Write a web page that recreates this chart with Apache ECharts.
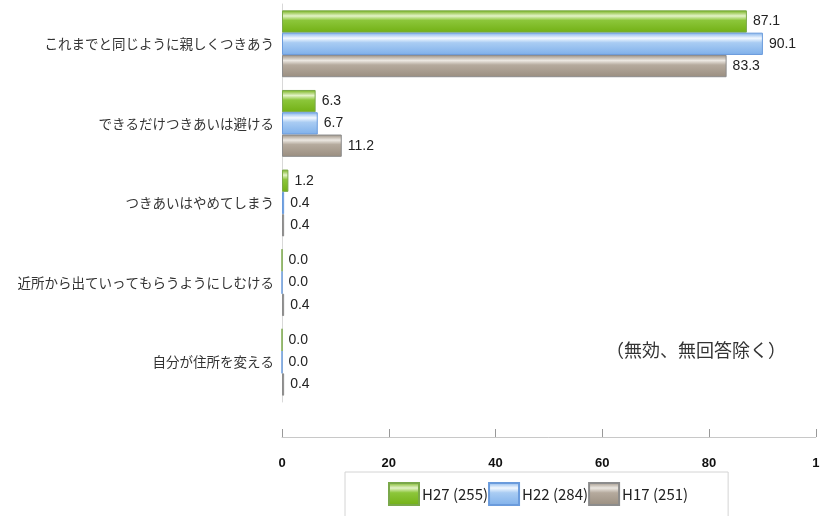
<!DOCTYPE html>
<html><head><meta charset="utf-8">
<script src="https://cdn.jsdelivr.net/npm/echarts@6/dist/echarts.min.js"></script>
<style>html,body{margin:0;padding:0;background:#fff}#c{width:828px;height:516px}</style>
</head><body><div id="c"></div>
<script>
const categories = ['これまでと同じように親しくつきあう','できるだけつきあいは避ける','つきあいはやめてしまう','近所から出ていってもらうようにしむける','自分が住所を変える'];
const seriesNames = ['H27 (255)','H22 (284)','H17 (251)'];
const h27 = [87.1, 6.3, 1.2, 0.0, 0.0];
const h22 = [90.1, 6.7, 0.4, 0.0, 0.0];
const h17 = [83.3, 11.2, 0.4, 0.4, 0.4];
const tickLabels = {0:'0',20:'20',40:'40',60:'60',80:'80',100:'1'};

function grad(dark, light, mid){
  return {type:'linear',x:0,y:0,x2:0,y2:1,colorStops:[
    {offset:0,color:dark},{offset:0.25,color:light},{offset:0.45,color:mid},{offset:1,color:dark}]};
}
const styles = [
  {color:grad('#72b014','#e4f3c8','#8cc63a'), borderColor:'#7aa84a'},
  {color:grad('#7fb0ea','#f2f8ff','#a9ccf3'), borderColor:'#6a9bdc'},
  {color:grad('#9a8e80','#ece8e2','#b5aa9d'), borderColor:'#8c8c8c'}
];
const datas = [h27,h22,h17];
const chart = echarts.init(document.getElementById('c'));
chart.setOption({
  animation:false,
  grid:{left:282,right:12.25,top:4,height:398,containLabel:false},
  xAxis:{type:'value',min:0,max:100,interval:20,offset:35,
    axisLine:{show:true,lineStyle:{color:'#c8c8c8'}},
    axisTick:{show:true,inside:true,length:8,lineStyle:{color:'#999'}},
    splitLine:{show:false},
    axisLabel:{margin:20,fontFamily:'Liberation Sans, Arial',fontWeight:'bold',fontSize:13,color:'#111',
      formatter:v=>tickLabels[v]}},
  yAxis:{type:'category',data:categories,inverse:true,
    axisLine:{show:true,lineStyle:{color:'#d8d8d8'}},axisTick:{show:false},
    axisLabel:{margin:8,fontFamily:'Noto Sans CJK JP',fontSize:13.5,color:'#333'}},
  legend:{bottom:-20,left:345,width:385,padding:[10,40,30,43],itemGap:0,itemWidth:30,itemHeight:22,
    borderColor:'#d4d4d4',borderWidth:1,
    textStyle:{fontFamily:'Liberation Sans Narrow, Noto Sans CJK JP',fontSize:15,color:'#222',padding:[0,0,0,-2]},
    data:seriesNames.map(n=>({name:n,icon:'rect'}))},
  graphic:[{type:'text',left:606,top:341,style:{text:'（無効、無回答除く）',font:'18px "Noto Sans CJK JP"',fill:'#333'}}],
  series: seriesNames.map((n,i)=>({
    name:n,type:'bar',data:datas[i],barGap:'0%',barCategoryGap:'16%',
    itemStyle:{color:styles[i].color,borderColor:styles[i].borderColor,borderWidth:1},
    label:{show:true,position:'right',distance:6,fontFamily:'Liberation Sans, Arial',fontSize:14,color:'#222',
      formatter:p=>p.value.toFixed(1)}
  }))
});
</script></body></html>
